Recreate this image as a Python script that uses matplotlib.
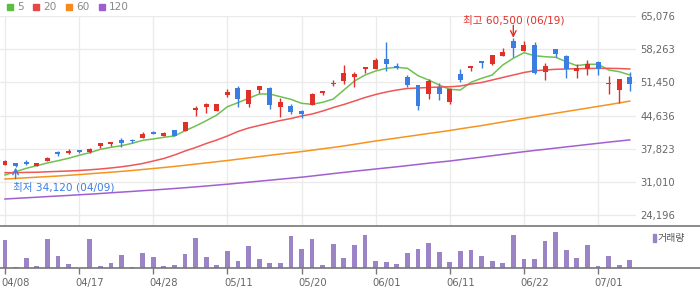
import numpy as np
import matplotlib.pyplot as plt
from matplotlib.patches import Rectangle
from matplotlib.lines import Line2D
from matplotlib.transforms import ScaledTranslation

# daily candles (60 sessions, 04/08 .. 07/04)
open_ = [34560, 34900, 35180, 34300, 35380, 36950, 37020, 37580, 37170, 38340,
         38870, 39630, 39480, 40100, 41330, 40510, 41680, 41540, 45850, 46470,
         45640, 48870, 50300, 47080, 49890, 50300, 46400, 46610, 45580, 46880,
         49280, 51100, 51800, 52560, 54260, 54260, 56310, 54670, 52560, 50920,
         49130, 50570, 47490, 53170, 54470, 55840, 55230, 56870, 60010, 57890,
         59130, 53650, 58300, 56870, 53850, 54200, 55640, 51180, 49890, 52620]
high = [35530, 34950, 35530, 34910, 36200, 37440, 37720, 37580, 37990, 39020,
        39220, 39980, 39900, 41270, 41540, 41270, 41680, 43330, 46610, 47290,
        47020, 50040, 50710, 49890, 50710, 50570, 48310, 47020, 45790, 49340,
        49690, 51940, 55020, 53650, 54410, 56460, 59800, 55430, 52970, 50920,
        52090, 51270, 50240, 54200, 54880, 55840, 57070, 58510, 60500, 59950,
        59680, 55490, 58300, 57070, 55230, 56050, 55840, 52760, 52150, 53650]
low = [34400, 34120, 34500, 34250, 35380, 36350, 36760, 37020, 36900, 38050,
       38340, 38260, 38950, 40100, 40800, 40510, 40510, 41540, 44620, 45230,
       45640, 48520, 46470, 46470, 49340, 45990, 44410, 44900, 44080, 46880,
       48930, 50710, 51120, 50570, 53440, 54260, 53850, 54140, 50510, 45730,
       48110, 47840, 47020, 51590, 53850, 54470, 55080, 56870, 56600, 57890,
       53170, 51940, 56600, 52420, 52420, 52970, 52970, 49070, 47160, 49750]
close = [35260, 34300, 34770, 34910, 35940, 36850, 37440, 37170, 37720, 39020,
         39220, 39020, 39380, 40860, 40800, 41070, 40510, 43330, 46200, 47020,
         47020, 49480, 48050, 49890, 50710, 46810, 47430, 45440, 45030, 49070,
         49690, 51200, 53320, 53170, 54410, 56110, 55290, 54470, 50920, 46670,
         51800, 49130, 50040, 52010, 54610, 55430, 57070, 57690, 58570, 59130,
         53320, 54820, 57280, 54140, 54470, 55230, 54200, 51270, 52150, 51120]

ma5 = [32450, 33130, 33820, 34360, 34910, 35380, 35880, 36490, 37030, 37720,
       38130, 38460, 38950, 39570, 39840, 40190, 40450, 41540, 42500, 43590,
       44760, 46460, 47290, 48190, 49070, 49070, 48520, 47980, 47160, 46960,
       47370, 48040, 49890, 51740, 52970, 53790, 54340, 54550, 54340, 52830,
       51940, 50920, 50040, 49890, 51470, 52290, 52970, 55020, 56400, 57550,
       56930, 56720, 56600, 55700, 54880, 55170, 55170, 54000, 53650, 52970]
ma20 = [32920, 32940, 32980, 33020, 33110, 33190, 33270, 33370, 33520, 33680,
        33890, 34130, 34440, 34810, 35320, 35840, 36550, 37370, 38090, 38910,
        39630, 40450, 41380, 42090, 42610, 43120, 43630, 44040, 44560, 44970,
        45580, 46300, 46920, 47630, 48350, 48970, 49480, 49890, 50200, 50300,
        50410, 50510, 50550, 50710, 51120, 51430, 51940, 52460, 52970, 53480,
        53850, 54000, 54140, 54200, 54260, 54300, 54340, 54340, 54300, 54200]
ma60 = [31630, 31750, 31880, 32000, 32120, 32240, 32390, 32530, 32700, 32860,
        33020, 33190, 33370, 33580, 33780, 33990, 34210, 34440, 34690, 34930,
        35180, 35420, 35690, 35960, 36230, 36490, 36760, 37000, 37250, 37540,
        37830, 38110, 38420, 38750, 39100, 39430, 39730, 40040, 40350, 40660,
        40970, 41270, 41580, 41930, 42260, 42590, 42960, 43330, 43690, 44060,
        44430, 44780, 45130, 45480, 45830, 46180, 46530, 46880, 47240, 47610]
ma120 = [27520, 27650, 27770, 27890, 28020, 28140, 28260, 28390, 28510, 28650,
         28800, 28940, 29080, 29230, 29370, 29520, 29680, 29840, 30010, 30190,
         30380, 30560, 30770, 30970, 31180, 31380, 31590, 31790, 32000, 32240,
         32490, 32740, 32980, 33230, 33450, 33680, 33910, 34130, 34380, 34620,
         34870, 35100, 35320, 35590, 35860, 36120, 36410, 36680, 36960, 37230,
         37480, 37720, 37970, 38220, 38460, 38710, 38950, 39200, 39430, 39650]

# volume, thousand shares
volume = [283, 13, 103, 23, 293, 123, 43, 3, 293, 23,
          53, 133, 13, 153, 113, 23, 33, 143, 303, 113,
          33, 173, 73, 223, 93, 53, 53, 323, 193, 293,
          33, 243, 103, 233, 333, 73, 63, 43, 153, 193,
          253, 163, 63, 173, 183, 123, 73, 53, 333, 93,
          93, 273, 363, 183, 103, 233, 23, 123, 33, 83]

tick_idx = [0, 7, 14, 21, 28, 35, 42, 49, 56]
tick_labels = ['04/08', '04/17', '04/28', '05/11', '05/20', '06/01', '06/11', '06/22', '07/01']
price_ticks = [24196, 31010, 37823, 44636, 51450, 58263, 65076]

hi_idx, lo_idx = 48, 1

UP, DOWN = '#e0302a', '#3a7ee2'
W, H = 700, 289
FONT = ['DejaVu Sans', 'Noto Sans CJK KR']
plt.rcParams['font.family'] = FONT

fig = plt.figure(figsize=(W / 100, H / 100), dpi=100)

def frac(x, y):
    return x / W, 1 - y / H

x0, xr = 5.0, 10.59       # pixel of first candle, pixels per candle
ax_r = 636.0
xlim = (-x0 / xr, (ax_r - x0) / xr)

# main price panel
ax = fig.add_axes([0, 1 - 226 / H, ax_r / W, (226 - 15.5) / H])
ax.set_xlim(*xlim)
ax.set_ylim(21984, 65179)

x = np.arange(len(close))
o, h, l, c = map(np.array, (open_, high, low, close))
col = np.where(c >= o, UP, DOWN)
ax.vlines(x, l, h, colors=col, lw=1, zorder=3)
body_lo = np.minimum(o, c)
body_h = np.maximum(np.abs(c - o), 250)
ax.bar(x, body_h, bottom=body_lo, width=0.47, color=col, lw=0, zorder=3)

ax.plot(x, ma5, color='#6fc152', lw=1.1, zorder=2)
ax.plot(x, ma20, color='#ef5656', lw=1.1, zorder=2)
ax.plot(x, ma60, color='#f7931e', lw=1.1, zorder=2)
ax.plot(x, ma120, color='#a15fd0', lw=1.1, zorder=2)

ax.set_xticks(tick_idx)
ax.set_yticks(price_ticks)
ax.set_yticklabels([f'{v:,}' for v in price_ticks])
ax.yaxis.tick_right()
ax.tick_params(axis='x', length=0, labelbottom=False)
ax.tick_params(axis='y', length=0, pad=3, labelsize=7.2, labelcolor='#666666')
ax.grid(True, color='#ebebeb', lw=1)
ax.set_axisbelow(True)
for s in ax.spines.values():
    s.set_visible(False)

# high / low markers
ax.annotate('', xy=(hi_idx, high[hi_idx] + 100), xytext=(0, 9), textcoords='offset points',
            arrowprops=dict(arrowstyle='->', color=UP, lw=1, shrinkA=0, shrinkB=0))
ax.annotate(f'최고 {high[hi_idx]:,} (06/19)', xy=(hi_idx, high[hi_idx]), xytext=(0, 13),
            textcoords='offset points', ha='center', va='center', color=UP, fontsize=7.6,
            family=FONT)
ax.annotate('', xy=(lo_idx, low[lo_idx] - 150), xytext=(0, -8), textcoords='offset points',
            arrowprops=dict(arrowstyle='->', color=DOWN, lw=1, shrinkA=0, shrinkB=0))
ax.annotate(f'최저 {low[lo_idx]:,} (04/09)', xy=(lo_idx, low[lo_idx]), xytext=(-2, -14.5),
            textcoords='offset points', ha='left', va='center', color=DOWN, fontsize=7.6,
            family=FONT)

# volume panel
axv = fig.add_axes([0, 1 - 268.3 / H, ax_r / W, (268.3 - 226) / H])
axv.set_xlim(*xlim)
axv.set_ylim(0, 423)
axv.bar(x, volume, width=0.45, color='#9b84c6', lw=0)
axv.set_yticks([])
axv.set_xticks(tick_idx)
axv.set_xticklabels(tick_labels)
axv.tick_params(axis='x', length=4, width=1, color='#777777', pad=3,
                labelsize=7.2, labelcolor='#666666')
for lab in axv.get_xticklabels():
    lab.set_horizontalalignment('left')
    lab.set_transform(lab.get_transform() + ScaledTranslation(-3.5 / 100, 0, fig.dpi_scale_trans))
for s in axv.spines.values():
    s.set_visible(False)

# full-width separators
for yy in (226, 268.3):
    fig.add_artist(Line2D([0, 1], [1 - yy / H] * 2, color='#777777', lw=1.2,
                          transform=fig.transFigure))

# top legend
legend = [('5', '#5dbd3d', 7), ('20', '#e94747', 33), ('60', '#f58a1f', 66), ('120', '#9d5fcf', 99)]
for lab, colr, px in legend:
    fig.add_artist(Rectangle(frac(px, 9.5), 6 / W, 6 / H, color=colr, transform=fig.transFigure))
    fig.text(*frac(px + 10, 6.5), lab, color='#8a8a8a', fontsize=7.6, va='center', ha='left')

# volume legend
fig.add_artist(Rectangle(frac(653, 242), 3 / W, 8 / H, color='#9b84c6', transform=fig.transFigure))
fig.text(*frac(658, 238), '거래량', color='#555555', fontsize=7.2, va='center', ha='left',
         family=['Noto Sans CJK KR', 'DejaVu Sans'])

fig.savefig('out.png', dpi=100)
